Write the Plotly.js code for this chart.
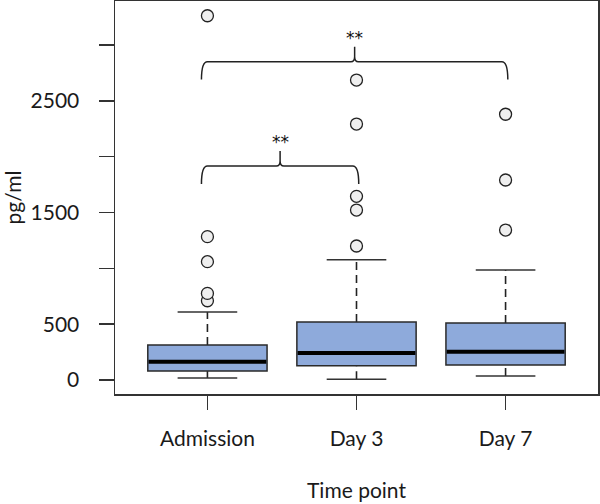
<!DOCTYPE html>
<html>
<head>
<meta charset="utf-8">
<script src="https://cdn.plot.ly/plotly-3.0.1.min.js"></script>
<style>html,body{margin:0;padding:0;background:#fff;}#chart{width:600px;height:504px;}</style>
</head>
<body>
<div id="chart"></div>
<script>
// ---- data ----
var categories = ['Admission', 'Day 3', 'Day 7'];
var q1 = [80, 128, 134];
var medians = [164, 242, 253];
var q3 = [313, 519, 510];
var lowerWhisker = [18, 6, 36];
var upperWhisker = [609, 1078, 985];
var outliersAdmission = [710, 776, 1060, 1284, 3262];
var outliersDay3 = [1200, 1522, 1645, 2292, 2686];
var outliersDay7 = [1343, 1791, 2380];
var yTickVals = [0, 500, 1000, 1500, 2000, 2500, 3000];
var yTickText = ['0', '500', '', '1500', '', '2500', ''];
var braceFrom = [0, 0];
var braceTo = [1, 2];
var braceLevel = [1916, 2850];
var braceLabel = ['**', '**'];

var outlierSets = [outliersAdmission, outliersDay3, outliersDay7];
var ink = '#222222';
var boxFill = '#8eaadb';
var fontFam = 'Lato, "Open Sans", sans-serif';
var halfW = 0.4, capHalf = 0.2;

var shapes = [];
var traces = [];
for (var i = 0; i < categories.length; i++) {
  // whiskers (dashed)
  shapes.push({type: 'line', xref: 'x', yref: 'y', x0: i, x1: i, y0: q3[i], y1: upperWhisker[i],
    line: {color: ink, width: 1.6, dash: '8px,5px'}, layer: 'above'});
  shapes.push({type: 'line', xref: 'x', yref: 'y', x0: i, x1: i, y0: lowerWhisker[i], y1: q1[i],
    line: {color: ink, width: 1.6, dash: '8px,5px'}, layer: 'above'});
  // caps
  shapes.push({type: 'line', xref: 'x', yref: 'y', x0: i - capHalf, x1: i + capHalf, y0: upperWhisker[i], y1: upperWhisker[i],
    line: {color: '#333', width: 1.5}, layer: 'above'});
  shapes.push({type: 'line', xref: 'x', yref: 'y', x0: i - capHalf, x1: i + capHalf, y0: lowerWhisker[i], y1: lowerWhisker[i],
    line: {color: '#333', width: 1.5}, layer: 'above'});
  // box
  shapes.push({type: 'rect', xref: 'x', yref: 'y', x0: i - halfW, x1: i + halfW, y0: q1[i], y1: q3[i],
    fillcolor: boxFill, line: {color: '#2a2a2a', width: 1.5}, layer: 'above'});
  // median
  shapes.push({type: 'line', xref: 'x', yref: 'y', x0: i - halfW + 0.005, x1: i + halfW - 0.005, y0: medians[i], y1: medians[i],
    line: {color: '#000', width: 4}, layer: 'above'});
  // outliers
  traces.push({
    type: 'scatter', mode: 'markers',
    x: outlierSets[i].map(function () { return i; }),
    y: outlierSets[i],
    marker: {symbol: 'circle', size: 12, color: '#efefef', line: {color: ink, width: 1.3}},
    hoverinfo: 'y', showlegend: false, cliponaxis: false
  });
}

// significance braces
var annotations = [];
var rx = 0.04, dropY = 160, tipY = 135, tipR = 45;
for (var b = 0; b < braceFrom.length; b++) {
  var x0 = braceFrom[b] - 0.04, x1 = braceTo[b] + 0.015;
  var xm = (x0 + x1) / 2, yl = braceLevel[b];
  var p = 'M ' + x0 + ',' + (yl - dropY) +
    ' Q ' + x0 + ',' + yl + ' ' + (x0 + rx) + ',' + yl +
    ' L ' + (xm - rx / 1.6) + ',' + yl +
    ' Q ' + xm + ',' + yl + ' ' + xm + ',' + (yl + tipR) +
    ' L ' + xm + ',' + (yl + tipY) +
    ' M ' + xm + ',' + (yl + tipR) +
    ' Q ' + xm + ',' + yl + ' ' + (xm + rx / 1.6) + ',' + yl +
    ' L ' + (x1 - rx) + ',' + yl +
    ' Q ' + x1 + ',' + yl + ' ' + x1 + ',' + (yl - dropY);
  shapes.push({type: 'path', xref: 'x', yref: 'y', path: p, line: {color: ink, width: 1.5}, layer: 'above'});
  annotations.push({x: xm, y: yl + tipY, xref: 'x', yref: 'y', text: braceLabel[b], showarrow: false,
    yanchor: 'bottom', yshift: -3, font: {family: '"DejaVu Sans", sans-serif', size: 17, color: '#111111'}});
}

var layout = {
  width: 600, height: 504,
  margin: {l: 115, r: 2, t: 1, b: 110},
  paper_bgcolor: '#fff', plot_bgcolor: '#fff',
  showlegend: false,
  font: {family: fontFam, size: 21, color: '#1a1a1a'},
  xaxis: {
    range: [-0.62, 2.62], tickvals: [0, 1, 2], ticktext: categories,
    ticks: 'outside', ticklen: 14, tickwidth: 1.5, tickcolor: '#333',
    showline: true, mirror: true, linecolor: '#333', linewidth: 1.5,
    showgrid: false, zeroline: false, ticklabelstandoff: 11,
    title: {text: 'Time point', standoff: 34, font: {family: fontFam, size: 21}}
  },
  yaxis: {
    range: [-125, 3394], tickvals: yTickVals, ticktext: yTickText,
    ticks: 'outside', ticklen: 15, tickwidth: 1.5, tickcolor: '#333',
    showline: true, mirror: true, linecolor: '#333', linewidth: 1.5,
    showgrid: false, zeroline: false, ticklabelstandoff: 15,
    title: {text: 'pg/ml', standoff: 17, font: {family: fontFam, size: 21}}
  },
  shapes: shapes,
  annotations: annotations
};

Plotly.newPlot('chart', traces, layout, {displayModeBar: false, staticPlot: true});
</script>
</body>
</html>
